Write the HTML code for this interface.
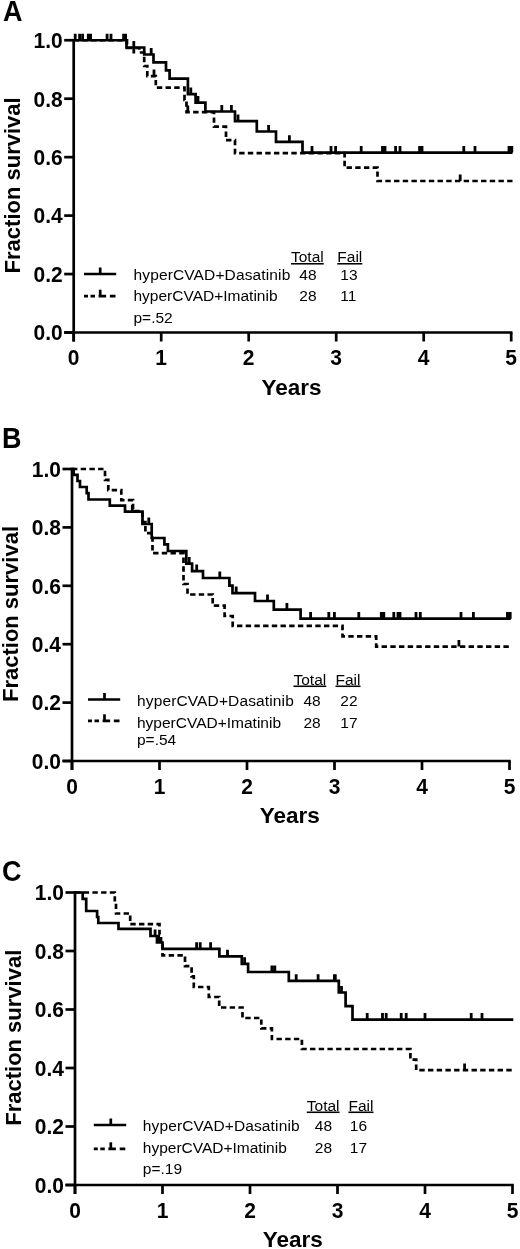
<!DOCTYPE html>
<html><head><meta charset="utf-8"><title>Kaplan-Meier survival</title>
<style>
html,body{margin:0;padding:0;background:#fff;}
body{width:520px;height:1249px;overflow:hidden;}
svg{display:block;will-change:transform;}
text{font-family:"Liberation Sans", sans-serif;fill:#000;}
.let{font-weight:bold;font-size:27px;}
.tl{font-weight:bold;font-size:21px;}
.tt{font-weight:bold;font-size:22.5px;}
.fs{font-weight:bold;font-size:22px;}
.lg{font-size:15.5px;}
.u{text-decoration:underline;}
.ax{stroke:#000;stroke-width:2.7;fill:none;}
.cv{stroke:#000;stroke-width:2.7;fill:none;}
.tk{stroke:#000;stroke-width:2.8;fill:none;}
.dd{stroke-width:2.7;}
</style></head>
<body>
<svg width="520" height="1249" viewBox="0 0 520 1249">
<rect width="520" height="1249" fill="#fff"/>
<text transform="translate(2.9 21.1) scale(1 1.12)" class="let">A</text>
<path d="M73.7 39V341.5M64.2 332.5H512.45" class="ax"/>
<path d="M64.2 332.5H73.7" class="ax"/>
<text transform="translate(62.7 340.3) scale(1 1.06)" class="tl" text-anchor="end">0.0</text>
<path d="M64.2 274.05H73.7" class="ax"/>
<text transform="translate(62.7 281.85) scale(1 1.06)" class="tl" text-anchor="end">0.2</text>
<path d="M64.2 215.6H73.7" class="ax"/>
<text transform="translate(62.7 223.4) scale(1 1.06)" class="tl" text-anchor="end">0.4</text>
<path d="M64.2 157.15H73.7" class="ax"/>
<text transform="translate(62.7 164.95) scale(1 1.06)" class="tl" text-anchor="end">0.6</text>
<path d="M64.2 98.7H73.7" class="ax"/>
<text transform="translate(62.7 106.5) scale(1 1.06)" class="tl" text-anchor="end">0.8</text>
<path d="M64.2 40.25H73.7" class="ax"/>
<text transform="translate(62.7 48.05) scale(1 1.06)" class="tl" text-anchor="end">1.0</text>
<path d="M73.7 332.5V341.5" class="ax"/>
<text transform="translate(73.7 365.1) scale(1 1.06)" class="tl" text-anchor="middle">0</text>
<path d="M161.2 332.5V341.5" class="ax"/>
<text transform="translate(161.2 365.1) scale(1 1.06)" class="tl" text-anchor="middle">1</text>
<path d="M248.7 332.5V341.5" class="ax"/>
<text transform="translate(248.7 365.1) scale(1 1.06)" class="tl" text-anchor="middle">2</text>
<path d="M336.2 332.5V341.5" class="ax"/>
<text transform="translate(336.2 365.1) scale(1 1.06)" class="tl" text-anchor="middle">3</text>
<path d="M423.7 332.5V341.5" class="ax"/>
<text transform="translate(423.7 365.1) scale(1 1.06)" class="tl" text-anchor="middle">4</text>
<path d="M511.2 332.5V341.5" class="ax"/>
<text transform="translate(511.2 365.1) scale(1 1.06)" class="tl" text-anchor="middle">5</text>
<text x="291.45" y="394.7" class="tt" text-anchor="middle">Years</text>
<text transform="translate(20.1 185.38) rotate(-90)" class="fs" text-anchor="middle">Fraction survival</text>
<path d="M73.7 40.25H127V48H139.3V52.5H144.2V66H147.3V76.2H155.8V87.6H184.5V100H186.5V112.2H214V126.6H226V140.2H235V153.2H344.6V167.6H377.5V181H512.5" class="cv dd" stroke-dasharray="5.4 3.3"/>
<path d="M73.7 40.25H126.5V47.5H144.2V54.5H153.5V62.3H166V70.3H169.6V78.6H187.9V94.2H195.6V102.6H205.4V111.5H235V121.2H256.8V131.5H276V141.8H302.5V152.6H512.5" class="cv"/>
<path d="M75.2 40.25V33.65M79.6 40.25V33.65M82.6 40.25V33.65M88.3 40.25V33.65M90.6 40.25V33.65M107.1 40.25V33.65M111 40.25V33.65M123.6 40.25V33.65M125.6 40.25V33.65M133.8 47.5V40.9M151.2 54.5V47.9M190.8 94.2V87.6M198 102.6V96M221.8 111.5V104.9M231.4 111.5V104.9M238 121.2V114.6M268.6 131.5V124.9M289.4 141.8V135.2M312 152.6V146M331 152.6V146M335.6 152.6V146M361.2 152.6V146M382.5 152.6V146M385 152.6V146M395.6 152.6V146M400 152.6V146M419.6 152.6V146M422 152.6V146M463.8 152.6V146M475 152.6V146M509 152.6V146M511.8 152.6V146M154 76.2V69.6M187.8 112.2V105.6M460.2 181V174.4M133.8 53.5V47" class="tk"/>
<path d="M84 274H116.2M100.2 274V267.5" class="cv"/>
<path d="M84 296.2H88M90.5 296.2H95M98.6 296.2H106.1M109.9 296.2H115.5" class="cv"/>
<path d="M100.2 296.2V289.7" class="cv"/>
<text x="133.5" y="280" class="lg" textLength="156.8">hyperCVAD+Dasatinib</text>
<text x="133.5" y="301.3" class="lg">hyperCVAD+Imatinib</text>
<text x="133.5" y="322.5" class="lg">p=.52</text>
<text x="291" y="262" class="lg u">Total</text>
<text x="337.3" y="262" class="lg u">Fail</text>
<text x="299.3" y="280" class="lg">48</text>
<text x="340.3" y="280" class="lg">13</text>
<text x="299.3" y="301.3" class="lg">28</text>
<text x="340.3" y="301.3" class="lg">11</text>
<text transform="translate(2 447.5) scale(1 1.12)" class="let">B</text>
<path d="M72 467.75V770M62.5 761H510.75" class="ax"/>
<path d="M62.5 761H72" class="ax"/>
<text transform="translate(61 768.8) scale(1 1.06)" class="tl" text-anchor="end">0.0</text>
<path d="M62.5 702.6H72" class="ax"/>
<text transform="translate(61 710.4) scale(1 1.06)" class="tl" text-anchor="end">0.2</text>
<path d="M62.5 644.2H72" class="ax"/>
<text transform="translate(61 652) scale(1 1.06)" class="tl" text-anchor="end">0.4</text>
<path d="M62.5 585.8H72" class="ax"/>
<text transform="translate(61 593.6) scale(1 1.06)" class="tl" text-anchor="end">0.6</text>
<path d="M62.5 527.4H72" class="ax"/>
<text transform="translate(61 535.2) scale(1 1.06)" class="tl" text-anchor="end">0.8</text>
<path d="M62.5 469H72" class="ax"/>
<text transform="translate(61 476.8) scale(1 1.06)" class="tl" text-anchor="end">1.0</text>
<path d="M72 761V770" class="ax"/>
<text transform="translate(72 793.6) scale(1 1.06)" class="tl" text-anchor="middle">0</text>
<path d="M159.5 761V770" class="ax"/>
<text transform="translate(159.5 793.6) scale(1 1.06)" class="tl" text-anchor="middle">1</text>
<path d="M247 761V770" class="ax"/>
<text transform="translate(247 793.6) scale(1 1.06)" class="tl" text-anchor="middle">2</text>
<path d="M334.5 761V770" class="ax"/>
<text transform="translate(334.5 793.6) scale(1 1.06)" class="tl" text-anchor="middle">3</text>
<path d="M422 761V770" class="ax"/>
<text transform="translate(422 793.6) scale(1 1.06)" class="tl" text-anchor="middle">4</text>
<path d="M509.5 761V770" class="ax"/>
<text transform="translate(509.5 793.6) scale(1 1.06)" class="tl" text-anchor="middle">5</text>
<text x="289.75" y="823.2" class="tt" text-anchor="middle">Years</text>
<text transform="translate(18.4 614) rotate(-90)" class="fs" text-anchor="middle">Fraction survival</text>
<path d="M72 469H105V479.8H108.3V490.2H121.3V500.2H133V511.2H142.5V522.2H145.4V533.2H152.5V553.2H183.5V584H187.5V594.5H212.7V605.6H224.6V616H232.7V625.9H342.5V636.4H376.2V646.6H510" class="cv dd" stroke-dasharray="5.4 3.3"/>
<path d="M72 469H73.6V474.8H77.5V481H80V487H86.7V493.2H88.5V499.5H109.8V505.6H125V511.6H142.5V524H151.7V538H164.4V544.4H167.9V551H186.3V563.6H192.1V571.1H203V578H229.4V585.6H232.5V593.1H255V601H273.8V609.6H300.6V618.7H510.8" class="cv"/>
<path d="M132.3 511.6V505M148.8 524V517.4M189.2 563.6V557M196.7 571.1V564.5M219.8 578V571.4M236.2 593.1V586.5M267.5 601V594.4M286.9 609.6V603M310.6 618.7V612.1M328.8 618.7V612.1M334.4 618.7V612.1M358.8 618.7V612.1M381.3 618.7V612.1M383.8 618.7V612.1M393.8 618.7V612.1M398 618.7V612.1M400 618.7V612.1M416 618.7V612.1M420.3 618.7V612.1M461 618.7V612.1M473.4 618.7V612.1M507.4 618.7V612.1M510.2 618.7V612.1M458.9 646.6V640" class="tk"/>
<path d="M88 699.5H120.2M104.5 699.5V693" class="cv"/>
<path d="M88 720.8H92M94.5 720.8H99M102.6 720.8H110.1M113.9 720.8H119.5" class="cv"/>
<path d="M104.5 720.8V714.3" class="cv"/>
<text x="137" y="705.8" class="lg" textLength="156.8">hyperCVAD+Dasatinib</text>
<text x="137" y="727.5" class="lg">hyperCVAD+Imatinib</text>
<text x="137" y="745" class="lg">p=.54</text>
<text x="293.5" y="684.5" class="lg u">Total</text>
<text x="335.5" y="684.5" class="lg u">Fail</text>
<text x="303.5" y="705.8" class="lg">48</text>
<text x="340.3" y="705.8" class="lg">22</text>
<text x="303.5" y="727.5" class="lg">28</text>
<text x="340.3" y="727.5" class="lg">17</text>
<text transform="translate(2 880.5) scale(1 1.12)" class="let">C</text>
<path d="M75 891.25V1194M65.5 1185H513.75" class="ax"/>
<path d="M65.5 1185H75" class="ax"/>
<text transform="translate(64 1192.8) scale(1 1.06)" class="tl" text-anchor="end">0.0</text>
<path d="M65.5 1126.5H75" class="ax"/>
<text transform="translate(64 1134.3) scale(1 1.06)" class="tl" text-anchor="end">0.2</text>
<path d="M65.5 1068H75" class="ax"/>
<text transform="translate(64 1075.8) scale(1 1.06)" class="tl" text-anchor="end">0.4</text>
<path d="M65.5 1009.5H75" class="ax"/>
<text transform="translate(64 1017.3) scale(1 1.06)" class="tl" text-anchor="end">0.6</text>
<path d="M65.5 951H75" class="ax"/>
<text transform="translate(64 958.8) scale(1 1.06)" class="tl" text-anchor="end">0.8</text>
<path d="M65.5 892.5H75" class="ax"/>
<text transform="translate(64 900.3) scale(1 1.06)" class="tl" text-anchor="end">1.0</text>
<path d="M75 1185V1194" class="ax"/>
<text transform="translate(75 1217.6) scale(1 1.06)" class="tl" text-anchor="middle">0</text>
<path d="M162.5 1185V1194" class="ax"/>
<text transform="translate(162.5 1217.6) scale(1 1.06)" class="tl" text-anchor="middle">1</text>
<path d="M250 1185V1194" class="ax"/>
<text transform="translate(250 1217.6) scale(1 1.06)" class="tl" text-anchor="middle">2</text>
<path d="M337.5 1185V1194" class="ax"/>
<text transform="translate(337.5 1217.6) scale(1 1.06)" class="tl" text-anchor="middle">3</text>
<path d="M425 1185V1194" class="ax"/>
<text transform="translate(425 1217.6) scale(1 1.06)" class="tl" text-anchor="middle">4</text>
<path d="M512.5 1185V1194" class="ax"/>
<text transform="translate(512.5 1217.6) scale(1 1.06)" class="tl" text-anchor="middle">5</text>
<text x="292.75" y="1247.2" class="tt" text-anchor="middle">Years</text>
<text transform="translate(21.4 1037.75) rotate(-90)" class="fs" text-anchor="middle">Fraction survival</text>
<path d="M75 892.5H114.8V903H116V913.5H130.2V924.2H159.5V934.6H161V945H162.5V955.4H185V966.2H191.6V976.4H193.8V987H208.8V997H219.2V1007.5H242.5V1018H261.3V1028.4H271.9V1039H301.9V1049H410.4V1059.6H416.2V1070.2H513" class="cv dd" stroke-dasharray="5.4 3.3"/>
<path d="M75 892.5H82.7V898.8H86.2V911H97.1V917H98.3V923H118.5V928.8H150.5V936H157V942.5H162.5V948.8H219.4V956.3H241.8V963.8H248.1V972H288.8V980.8H338.8V992.5H345.6V1006.2H352.5V1019.6H513.3" class="cv"/>
<path d="M155.1 936V929.4M158.6 942.5V935.9M196.6 948.8V942.2M200.2 948.8V942.2M210.6 948.8V942.2M227.5 956.3V949.7M244.6 963.8V957.2M271.9 972V965.4M274.8 972V965.4M296.2 980.8V974.2M318.1 980.8V974.2M334.4 980.8V974.2M335.3 980.8V974.2M341.5 992.5V985.9M367.2 1019.6V1013M382.5 1019.6V1013M386.2 1019.6V1013M401.2 1019.6V1013M406.2 1019.6V1013M425 1019.6V1013M471.2 1019.6V1013M482 1019.6V1013M464.6 1070.2V1063.6" class="tk"/>
<path d="M93.8 1125H126.2M110.8 1125V1118.5" class="cv"/>
<path d="M93.8 1148.8H97.8M100.3 1148.8H104.8M108.4 1148.8H115.9M119.7 1148.8H125.3" class="cv"/>
<path d="M110.8 1148.8V1142.3" class="cv"/>
<text x="142.8" y="1130.8" class="lg" textLength="156.8">hyperCVAD+Dasatinib</text>
<text x="142.8" y="1153.3" class="lg">hyperCVAD+Imatinib</text>
<text x="142.8" y="1173.8" class="lg">p=.19</text>
<text x="306.8" y="1110.5" class="lg u">Total</text>
<text x="348.5" y="1110.5" class="lg u">Fail</text>
<text x="314.8" y="1130.8" class="lg">48</text>
<text x="349.8" y="1130.8" class="lg">16</text>
<text x="314.8" y="1153.3" class="lg">28</text>
<text x="349.8" y="1153.3" class="lg">17</text>
</svg>
</body></html>
